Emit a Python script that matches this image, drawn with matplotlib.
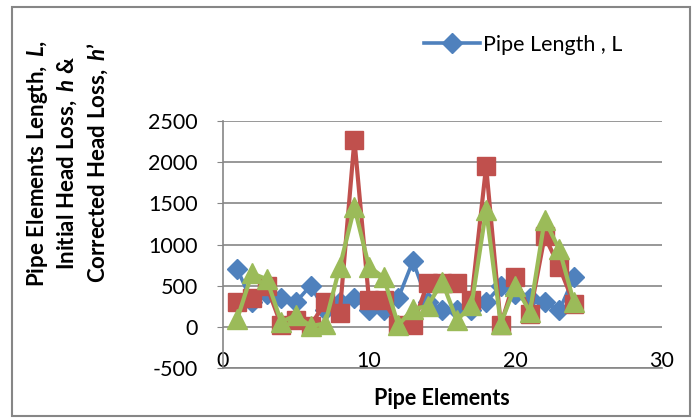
import matplotlib
matplotlib.use("Agg")
import matplotlib.pyplot as plt
from matplotlib.lines import Line2D
from matplotlib.patches import Rectangle

plt.rcParams['font.family'] = ['Lato', 'DejaVu Sans']
plt.rcParams['mathtext.fontset'] = 'custom'
plt.rcParams['mathtext.it'] = 'Lato:italic:bold'
plt.rcParams['mathtext.rm'] = 'Lato:bold'
plt.rcParams['axes.unicode_minus'] = False

# data
elements = list(range(1, 25))
pipe_length = [700, 300, 400, 350, 300, 500, 200, 300, 350, 200, 200, 350,
               800, 300, 200, 200, 200, 300, 500, 400, 350, 300, 200, 600]
initial_loss = [300, 350, 500, 20, 80, 10, 300, 170, 2270, 320, 320, 20,
                20, 530, 530, 530, 330, 1950, 20, 600, 160, 1100, 730, 280]
corrected_loss = [100, 650, 580, 60, 140, 10, 40, 730, 1450, 730, 600, 20,
                  220, 250, 550, 80, 260, 1420, 40, 500, 180, 1300, 940, 300]

blue = '#4F81BD'
red = '#C0504D'
green = '#9BBB59'

fig = plt.figure(figsize=(6.94, 4.19), dpi=100)
fig.patches.append(Rectangle((0.0173, 0.007), 0.977, 0.976, transform=fig.transFigure,
                             fill=False, edgecolor='#868686', linewidth=1.5))

ax = fig.add_axes([0.3209, 0.1217, 0.6326, 0.5895])

ax.plot(elements, pipe_length, color=blue, lw=2.6, marker='D', ms=10,
        mec=blue, zorder=3)
ax.plot(elements, initial_loss, color=red, lw=3, marker='s', ms=13,
        mec=red, zorder=4)
ax.plot(elements, corrected_loss, color=green, lw=3, marker='^', ms=14,
        mec=green, zorder=5)

ax.set_xlim(0, 30)
ax.set_ylim(-500, 2500)
ax.set_xticks([0, 10, 20, 30])
ax.set_yticks(range(-500, 2501, 500))
ax.grid(axis='y', color='#868686', lw=1.2)
ax.set_axisbelow(True)
for s in ['top', 'right']:
    ax.spines[s].set_visible(False)
for s in ['left', 'bottom']:
    ax.spines[s].set_color('#868686')
    ax.spines[s].set_linewidth(1.2)
ax.tick_params(axis='y', length=4, color='#868686', pad=14, labelsize=15.5)
ax.tick_params(axis='x', length=0, pad=-12, labelsize=15.5)

fig.text(0.637, 1 - 398 / 419, 'Pipe Elements', ha='center', va='center',
         fontsize=15.5, fontweight='bold')
ylab = (r'$\mathrm{Pipe\ Elements\ Length,\ }L\mathrm{,}$' + '\n'
        r'$\mathrm{Initial\ Head\ Loss,\ }h\mathrm{\ &}$' + '\n'
        r'$\mathrm{Corrected\ Head\ Loss,\ }h’$')
fig.text(0.097, 0.611, ylab, rotation=90, ha='center', va='center', ma='center',
         fontsize=16, linespacing=1.32)

handle = Line2D([], [], color=blue, lw=2.6, marker='D', ms=10)
fig.legend(handles=[handle], labels=['Pipe Length , L'], loc='center left',
           bbox_to_anchor=(0.596, 0.893), frameon=False, fontsize=15.5,
           handlelength=2.6, handletextpad=0.1, borderpad=0)

fig.savefig('out.png', dpi=100)
